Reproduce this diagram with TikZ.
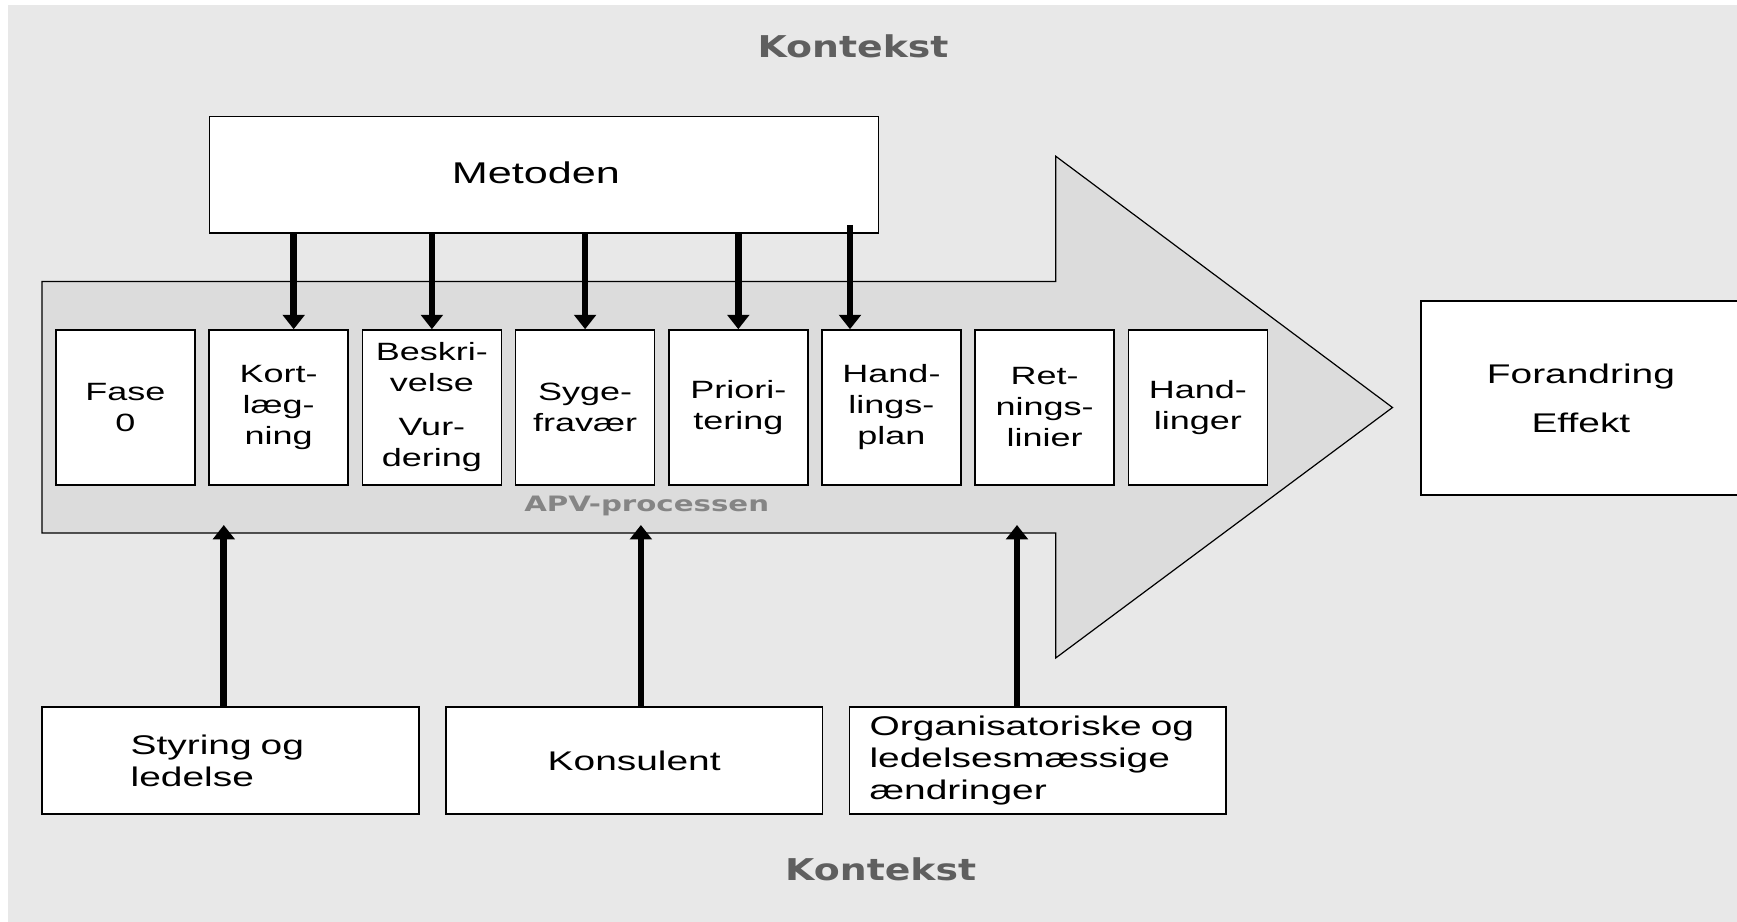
\documentclass[tikz,border=0pt]{standalone}
\usepackage{fontspec}
\setmainfont{Liberation Sans}[FakeStretch=1.44]
\newfontfamily\ctxfont{DejaVu Sans}[FakeStretch=1.26]
\newfontfamily\apvfont{DejaVu Sans}[FakeStretch=1.38]
\usetikzlibrary{arrows.meta,calc,positioning}
\definecolor{ctxbg}{HTML}{E8E8E8}
\definecolor{apvfill}{HTML}{DCDCDC}
\definecolor{ctxtext}{HTML}{5F5F5F}
\definecolor{apvtext}{HTML}{858585}

\begin{document}
\begin{tikzpicture}[x=0.5pt,y=-0.5pt,>={Triangle[width=10.8pt,length=7.2pt]}]
    \tikzstyle{fase}=[rectangle,draw=black,line width=0.8pt,fill=white,align=center,minimum width=69.5pt,minimum height=77.5pt,inner sep=2pt,font={\fontsize{12.5pt}{15.5pt}\selectfont}]
    \tikzstyle{ctx}=[rectangle,draw=black,line width=0.8pt,fill=white,minimum width=188.3pt,minimum height=53.7pt,inner sep=2pt,font={\fontsize{13.5pt}{16pt}\selectfont}]
    \tikzstyle{kontekst}=[text=ctxtext,font={\ctxfont\bfseries\fontsize{15pt}{18pt}\selectfont}]
    \tikzstyle{pil}=[->,line width=3.35pt]

    \useasboundingbox (0,0) rectangle (1737,922);
    \clip (0,0) rectangle (1737,922);
    \fill[ctxbg] (8,5) rectangle (1737,922);

    % APV arrow
    \draw[fill=apvfill,line width=0.6pt] (42,281.5) -- (1055.7,281.5) -- (1055.7,156.2) -- (1392.5,407.5)
      -- (1055.7,658) -- (1055.7,533) -- (42,533) -- cycle;
    \coordinate (apvlow) at (42,525);

    \node[rectangle,draw=black,line width=0.8pt,fill=white,minimum width=334.5pt,minimum height=58.3pt,
      font={\fontsize{15pt}{18pt}\selectfont}] (metoden) at (543.9,174.7) {\raisebox{2pt}{Metoden}\hspace*{8pt}};
    \node[rectangle,draw=black,line width=0.8pt,fill=white,align=center,minimum width=160.2pt,minimum height=97.2pt,
      font={\fontsize{13.5pt}{16pt}\selectfont}] (forandring) at (1580.9,397.9) {Forandring\\[8.5pt]Effekt};

    \node[matrix, column sep=6.3pt, inner sep=0pt](faser) at (661.7,407.5){
      \node[fase](fase0){Fase\\0}; & \node[fase](kort){Kort-\\læg-\\ning}; &
      \node[fase](beskr){Beskri-\\velse\\[6.5pt]Vur-\\dering}; & \node[fase](syge){Syge-\\fravær}; &
      \node[fase](prior){Priori-\\tering}; & \node[fase](handl){Hand-\\lings-\\plan}; &
      \node[fase](retn){Ret-\\nings-\\linier}; & \node[fase](handlinger){Hand-\\linger}; \\
    };

    \node[matrix, column sep=12.8pt, inner sep=0pt](aktoerer) at (634.2,760.5){
      \node[ctx,align=left,text width=99.7pt](styring){Styring og\\ledelse}; & \node[ctx](konsulent){Konsulent}; &
      \node[ctx,align=left,text width=168.4pt](org){Organisatoriske og\\ledelsesmæssige\\ændringer}; \\
    };

    \node[kontekst] (kontekstop) at (853,46) {Kontekst};
    \node[kontekst] (kontekstbund) at (880.7,869) {Kontekst};
    \node[text=apvtext,font={\apvfont\bfseries\fontsize{10.6pt}{12pt}\selectfont}] (apv) at (646.7,506) {APV-processen};

    % Metoden -> faser
    \coordinate (t1) at ([xshift=7.5pt]kort.north);
    \coordinate (t5) at ([xshift=-20.75pt]handl.north);
    \coordinate (m5) at ([yshift=4.5pt]metoden.south);
    \foreach \t in {t1,beskr.north,syge.north,prior.north}
      \draw[pil] (metoden.south -| \t) -- (\t);
    \draw[pil] (m5 -| t5) -- (t5);

    % aktoerer -> APV
    \coordinate (s1) at ([xshift=-3.3pt]styring.north);
    \coordinate (s2) at ([xshift=3.35pt]konsulent.north);
    \coordinate (s3) at ([xshift=-10.5pt]org.north);
    \foreach \s in {s1,s2,s3}
      \draw[pil] (\s) -- (\s |- apvlow);
\end{tikzpicture}
\end{document}
